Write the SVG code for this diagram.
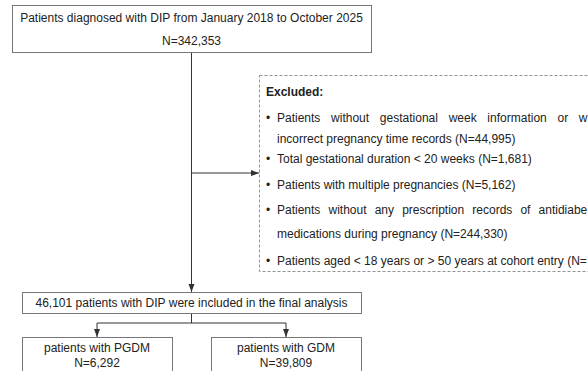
<svg xmlns="http://www.w3.org/2000/svg" width="588" height="371" viewBox="0 0 588 371">
<defs>
<marker id="ah" viewBox="0 0 8 8" refX="8" refY="4" markerWidth="8" markerHeight="8" markerUnits="userSpaceOnUse" orient="auto">
<path d="M0,1 L8,4 L0,7 Z" fill="#333"/>
</marker>
</defs>
<style>
text{font-family:"Liberation Sans",Arial,sans-serif;font-size:12px;fill:#222}
.c{text-anchor:middle}
.box{fill:#fff;stroke:#777;stroke-width:1}
.dash{fill:#fff;stroke:#777;stroke-width:0.8;stroke-dasharray:3 2}
.ln{fill:none;stroke:#333;stroke-width:1}
.b{font-weight:bold}
</style>
<rect width="588" height="371" fill="#fff"/>
<g id="connectors">
<path class="ln" d="M191.5,52 V292" marker-end="url(#ah)"/>
<path class="ln" d="M191.5,173 H259" marker-end="url(#ah)"/>
<path class="ln" d="M191.5,314 V323 M97,323 H286"/>
<path class="ln" d="M97,323 V337" marker-end="url(#ah)"/>
<path class="ln" d="M286,323 V337" marker-end="url(#ah)"/>
</g>
<g id="n-start">
<rect class="box" x="12.5" y="5.5" width="359" height="47"/>
<text class="c" x="191.5" y="22">Patients diagnosed with DIP from January 2018 to October 2025</text>
<text class="c" x="191.5" y="45">N=342,353</text>
</g>
<g id="n-excluded">
<rect class="dash" x="259.5" y="75.5" width="340" height="196"/>
<text class="b" x="266" y="96">Excluded:</text>
<text x="266" y="122">•</text>
<text x="277" y="122" style="word-spacing:7.4px">Patients without gestational week information or w</text>
<text x="277" y="143">incorrect pregnancy time records (N=44,995)</text>
<text x="266" y="163">•</text>
<text x="277" y="163">Total gestational duration &lt; 20 weeks (N=1,681)</text>
<text x="266" y="189">•</text>
<text x="277" y="189">Patients with multiple pregnancies (N=5,162)</text>
<text x="266" y="214">•</text>
<text x="277" y="214" style="word-spacing:4.8px">Patients without any prescription records of antidiabe</text>
<text x="277" y="238">medications during pregnancy (N=244,330)</text>
<text x="266" y="265">•</text>
<text x="277" y="265">Patients aged &lt; 18 years or &gt; 50 years at cohort entry (N=</text>
</g>
<g id="n-included">
<rect class="box" x="22.5" y="292.5" width="339" height="21"/>
<text class="c" x="191.5" y="307">46,101 patients with DIP were included in the final analysis</text>
</g>
<g id="n-pgdm">
<rect class="box" x="22.5" y="337.5" width="150" height="40"/>
<text class="c" x="97" y="352">patients with PGDM</text>
<text class="c" x="97" y="367">N=6,292</text>
</g>
<g id="n-gdm">
<rect class="box" x="211.5" y="337.5" width="150" height="40"/>
<text class="c" x="286" y="352">patients with GDM</text>
<text class="c" x="286" y="367">N=39,809</text>
</g>
</svg>
